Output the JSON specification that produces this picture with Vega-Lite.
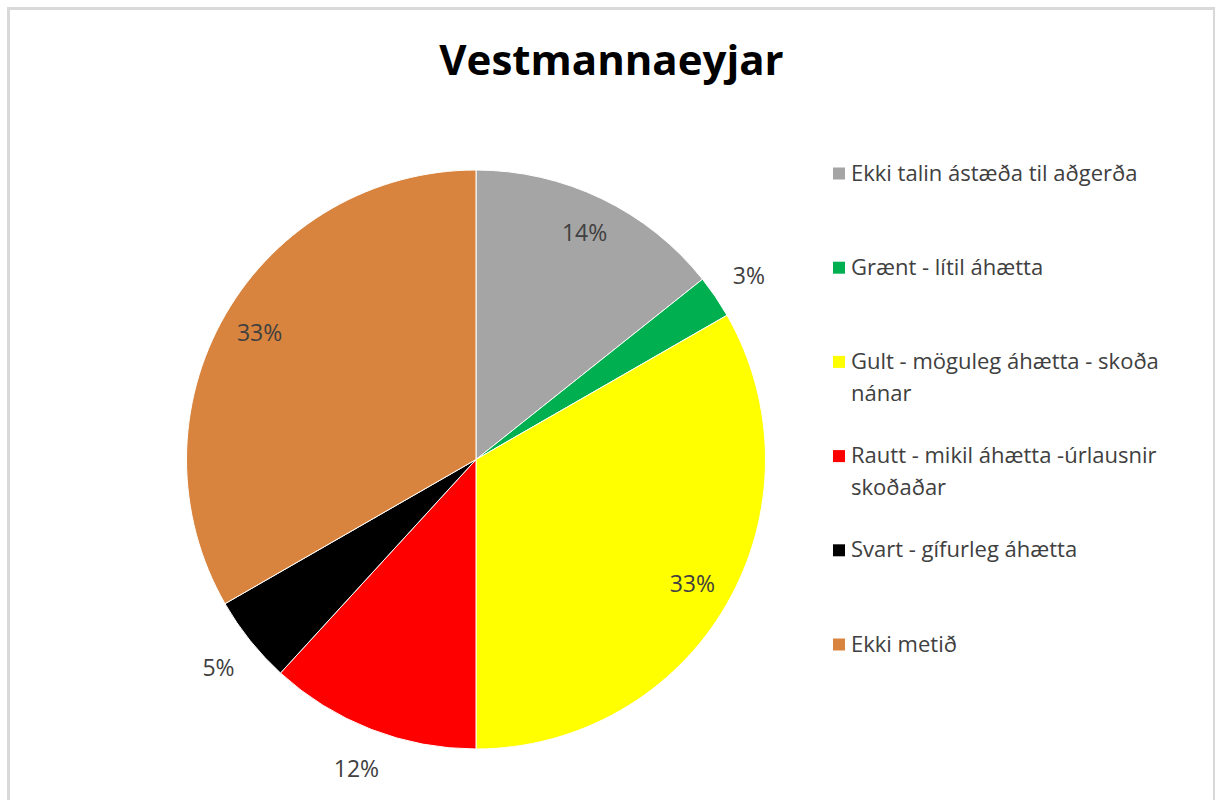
{
  "$schema": "https://vega.github.io/schema/vega-lite/v6.json",
  "autosize": {"type": "none"},
  "width": 1206,
  "height": 902,
  "padding": {"left": 8.5, "top": 8.5, "right": 0, "bottom": 0},
  "background": "#ffffff",
  "view": {"stroke": "#d9d9d9", "strokeWidth": 3},
  "config": {
    "view": {"stroke": "#d9d9d9", "strokeWidth": 3},
    "font": "Open Sans",
    "style": {"guide-label": {"lineHeight": 32}}
  },
  "title": {
    "text": "Vestmannaeyjar",
    "font": "Open Sans",
    "fontSize": 42,
    "fontWeight": "bold",
    "color": "#000000",
    "anchor": "middle",
    "frame": "group",
    "baseline": "alphabetic",
    "offset": -108.5
  },
  "data": {
    "values": [
      {"name": "Ekki talin ástæða til aðgerða", "value": 14.3, "label": "14%", "order": 1},
      {"name": "Grænt - lítil áhætta", "value": 2.4, "label": "3%", "order": 2},
      {"name": "Gult - möguleg áhætta - skoða nánar", "value": 33.3, "label": "33%", "order": 3},
      {"name": "Rautt - mikil áhætta -úrlausnir skoðaðar", "value": 11.8, "label": "12%", "order": 4},
      {"name": "Svart - gífurleg áhætta", "value": 4.9, "label": "5%", "order": 5},
      {"name": "Ekki metið", "value": 33.3, "label": "33%", "order": 6}
    ]
  },
  "encoding": {
    "theta": {"field": "value", "type": "quantitative", "stack": true},
    "order": {"field": "order", "type": "quantitative"}
  },
  "layer": [
    {
      "mark": {"type": "arc", "outerRadius": 289.5, "xOffset": -135.5, "stroke": "#ffffff", "strokeWidth": 1},
      "encoding": {
        "color": {
          "field": "name",
          "type": "nominal",
          "sort": null,
          "scale": {
            "domain": ["Ekki talin ástæða til aðgerða", "Grænt - lítil áhætta", "Gult - möguleg áhætta - skoða nánar", "Rautt - mikil áhætta -úrlausnir skoðaðar", "Svart - gífurleg áhætta", "Ekki metið"],
            "range": ["#a5a5a5", "#00b050", "#ffff00", "#ff0000", "#000000", "#d9843e"]
          },
          "legend": {
            "title": null,
            "orient": "none",
            "legendX": 819.5,
            "legendY": 154,
            "padding": 0,
            "symbolType": "square",
            "symbolSize": 144,
            "symbolStrokeWidth": 0,
            "labelFont": "Open Sans",
            "labelFontSize": 22,
            "labelColor": "#404040",
            "labelOffset": 1,
            "labelLimit": 400,
            "labelBaseline": "middle",
            "rowPadding": 40.2,
            "labelExpr": "datum.label == 'Gult - möguleg áhætta - skoða nánar' ? ['Gult - möguleg áhætta - skoða', 'nánar'] : datum.label == 'Rautt - mikil áhætta -úrlausnir skoðaðar' ? ['Rautt - mikil áhætta -úrlausnir', 'skoðaðar'] : [datum.label, '']"
          }
        }
      }
    },
    {
      "mark": {"type": "text", "radius": 250, "xOffset": -135.5, "font": "Open Sans", "fontSize": 23, "color": "#404040"},
      "encoding": {
        "text": {"condition": {"test": "datum.value > 13", "field": "label"}, "value": ""}
      }
    },
    {
      "mark": {"type": "text", "radius": 330, "xOffset": -135.5, "yOffset": 3, "font": "Open Sans", "fontSize": 23, "color": "#404040"},
      "encoding": {
        "text": {"condition": {"test": "datum.value <= 13", "field": "label"}, "value": ""}
      }
    }
  ]
}
